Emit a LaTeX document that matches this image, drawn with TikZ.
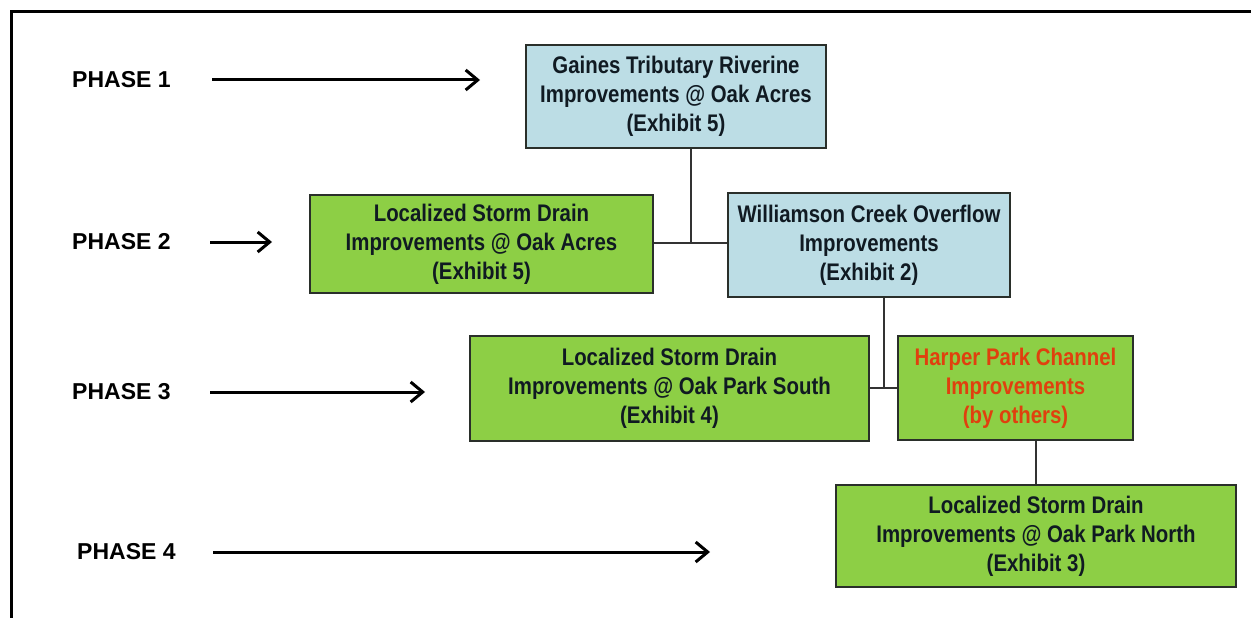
\documentclass[tikz,border=0pt]{standalone}
\usepackage{fontspec}
\setmainfont{Liberation Sans}
\newfontfamily\boxfont[FakeStretch=0.85]{Liberation Sans}
\usetikzlibrary{arrows.meta}
\definecolor{lblue}{HTML}{BCDDE5}
\definecolor{lgreen}{HTML}{8DCF45}
\definecolor{boxline}{HTML}{2A2F2A}
\definecolor{boxtext}{HTML}{101A22}
\definecolor{redtext}{HTML}{E0400E}
\definecolor{linkgray}{HTML}{333333}
\begin{document}
\begin{tikzpicture}[x=1pt,y=-1pt,
  box/.style={draw=boxline, line width=1.8pt, align=center, inner sep=0pt,
    font=\boxfont\bfseries\fontsize{24}{29}\selectfont, text=boxtext},
  bluebox/.style={box, fill=lblue},
  greenbox/.style={box, fill=lgreen},
  phase/.style={anchor=west, inner sep=0pt, font=\bfseries\fontsize{23}{26}\selectfont},
  parrow/.style={line width=3pt, -{Straight Barb[length=12pt,width=20pt,line width=3pt]}},
  link/.style={draw=linkgray, line width=1.6pt}
]
\useasboundingbox (0,0) rectangle (1251,618);
\fill[white] (0,0) rectangle (1251,618);
% frame
\draw[line width=3pt] (11,618) -- (11,11.5) -- (1251,11.5);

% boxes
\node[bluebox, minimum width=300pt, minimum height=103pt] (gaines) at (676,96.5)
  {Gaines Tributary Riverine\\Improvements @ Oak Acres\\(Exhibit 5)};
\node[greenbox, minimum width=343pt, minimum height=98pt] (oakacres) at (481.5,244)
  {Localized Storm Drain\\Improvements @ Oak Acres\\(Exhibit 5)};
\node[bluebox, minimum width=282pt, minimum height=104pt] (williamson) at (869,245)
  {Williamson Creek Overflow\\Improvements\\(Exhibit 2)};
\node[greenbox, minimum width=399pt, minimum height=105pt] (ops) at (669.5,388.5)
  {Localized Storm Drain\\Improvements @ Oak Park South\\(Exhibit 4)};
\node[greenbox, text=redtext, minimum width=235pt, minimum height=104pt] (harper) at (1015.5,388)
  {Harper Park Channel\\Improvements\\(by others)};
\node[greenbox, minimum width=400pt, minimum height=102pt] (opn) at (1036,536)
  {Localized Storm Drain\\Improvements @ Oak Park North\\(Exhibit 3)};

% connectors
\coordinate (j1) at (691,243);
\draw[link] (gaines.south -| j1) -- (j1);
\draw[link] (oakacres.east |- j1) -- (williamson.west |- j1);
\coordinate (j2) at (884,388);
\draw[link] (williamson.south -| j2) -- (j2);
\draw[link] (ops.east |- j2) -- (harper.west |- j2);
\draw[link] (harper.south -| opn.north) -- (opn.north);

% phases
\node[phase] (p1) at (72,80) {PHASE 1};
\node[phase] (p2) at (72,242) {PHASE 2};
\node[phase] (p3) at (72,392) {PHASE 3};
\node[phase] (p4) at (77,552) {PHASE 4};
\coordinate (a1s) at (212,80);   \coordinate (a1e) at (480,80);
\coordinate (a2s) at (210,242);  \coordinate (a2e) at (272,242);
\coordinate (a3s) at (210,392);  \coordinate (a3e) at (425,392);
\coordinate (a4s) at (213,552);  \coordinate (a4e) at (710,552);
\draw[parrow] (a1s) -- (a1e);
\draw[parrow] (a2s) -- (a2e);
\draw[parrow] (a3s) -- (a3e);
\draw[parrow] (a4s) -- (a4e);
\end{tikzpicture}
\end{document}
